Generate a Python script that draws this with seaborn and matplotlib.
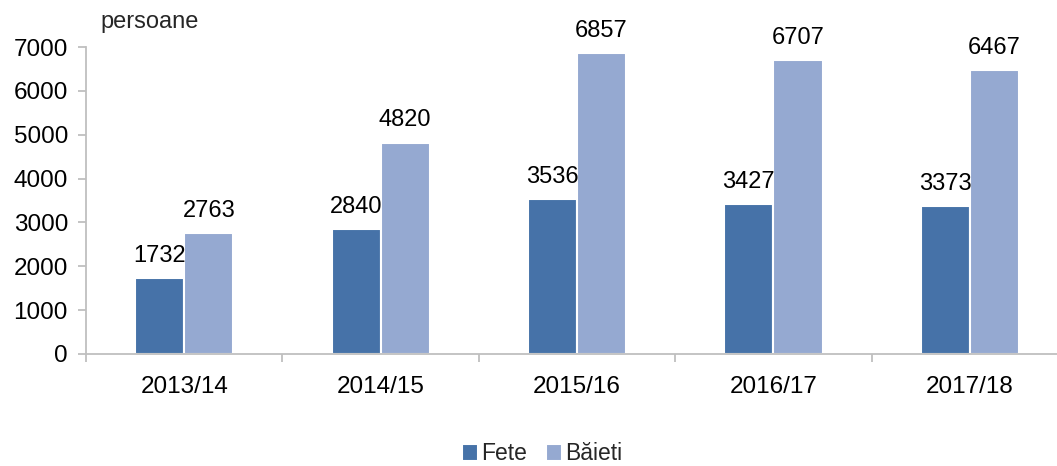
import matplotlib
matplotlib.use("Agg")
import matplotlib.pyplot as plt
import seaborn as sns
import pandas as pd
import numpy as np

years = ["2013/14", "2014/15", "2015/16", "2016/17", "2017/18"]
fete = [1732, 2840, 3536, 3427, 3373]
baieti = [2763, 4820, 6857, 6707, 6467]
series_names = ["Fete", "Băieti"]
colors = ["#4672A8", "#95A9D1"]

df = pd.DataFrame({
    "an": years * 2,
    "valoare": fete + baieti,
    "gen": [series_names[0]] * len(years) + [series_names[1]] * len(years),
})

sns.set_theme(style="white")
plt.rcParams['font.family'] = ['Liberation Sans', 'DejaVu Sans']

fig = plt.figure(figsize=(10.57, 4.66), dpi=100)
W, H = 1057, 466
ax = fig.add_axes([86 / W, (H - 354) / H, (1068 - 86) / W, (354 - 47) / H])

sns.barplot(data=df, x="an", y="valoare", hue="gen", palette=colors,
            saturation=1, width=0.5, edgecolor="white", linewidth=1.5,
            ax=ax, legend=True)

ax.set_xlim(-0.5, 4.5)
ax.set_ylim(0, 7000)
ax.set_yticks(range(0, 7001, 1000))
ax.set_xlabel("")
ax.set_ylabel("")

grey = "#BFBFBF"
for s in ["top", "right"]:
    ax.spines[s].set_visible(False)
for s in ["left", "bottom"]:
    ax.spines[s].set_color(grey)
    ax.spines[s].set_linewidth(1.3)

fs = 17.5
ax.tick_params(axis="y", which="major", left=True, length=6, width=1.3, color=grey,
               labelsize=fs, pad=7, labelcolor="black")
ax.tick_params(axis="x", which="major", bottom=False, labelsize=fs, pad=10, labelcolor="black")
ax.set_xticks(np.arange(len(years)))
ax.set_xticklabels(years)
ax.set_xticks(np.arange(-0.5, len(years) + 0.5, 1), minor=True)
ax.tick_params(axis="x", which="minor", bottom=True, length=6, width=1.3, color=grey)

for cont in ax.containers:
    ax.bar_label(cont, labels=[f"{int(v)}" for v in cont.datavalues],
                 padding=8, fontsize=17, color="black")

ax.text(100 / W, 1 - 22 / H, "persoane", transform=fig.transFigure,
        fontsize=17, va="center", ha="left")

leg = ax.legend(loc="center", bbox_to_anchor=(542 / W, (H - 454) / H),
                bbox_transform=fig.transFigure, ncol=2, frameon=False,
                fontsize=16.5, handlelength=0.7, handleheight=0.7,
                handletextpad=0.15, columnspacing=0.8)

fig.savefig("out.png", dpi=100)
